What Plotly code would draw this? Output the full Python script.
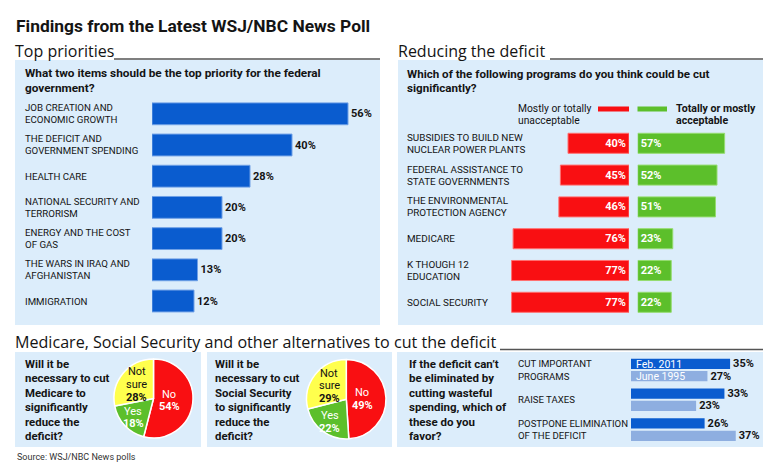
import math
import plotly.graph_objects as go

W, H = 778, 475


def px(x):
    return x / W


def py(y):
    return 1 - y / H


# ---------------- data ----------------
priority_labels = [
    ["JOB CREATION AND", "ECONOMIC GROWTH"],
    ["THE DEFICIT AND", "GOVERNMENT SPENDING"],
    ["HEALTH CARE"],
    ["NATIONAL SECURITY AND", "TERRORISM"],
    ["ENERGY AND THE COST", "OF GAS"],
    ["THE WARS IN IRAQ AND", "AFGHANISTAN"],
    ["IMMIGRATION"],
]
priority_values = [56, 40, 28, 20, 20, 13, 12]

cut_labels = [
    ["SUBSIDIES TO BUILD NEW", "NUCLEAR POWER PLANTS"],
    ["FEDERAL ASSISTANCE TO", "STATE GOVERNMENTS"],
    ["THE ENVIRONMENTAL", "PROTECTION AGENCY"],
    ["MEDICARE"],
    ["K THOUGH 12", "EDUCATION"],
    ["SOCIAL SECURITY"],
]
unacceptable = [40, 45, 46, 76, 77, 77]
acceptable = [57, 52, 51, 23, 22, 22]

pie_labels = ["No", "Yes", "Not sure"]
medicare_pie = [54, 18, 28]
socsec_pie = [49, 22, 29]

favor_labels = [
    ["CUT IMPORTANT", "PROGRAMS"],
    ["RAISE TAXES"],
    ["POSTPONE ELIMINATION", "OF THE DEFICIT"],
]
feb_2011 = [35, 33, 26]
june_1995 = [27, 23, 37]

# ---------------- styles ----------------
FONT = "Roboto, Liberation Sans, sans-serif"
HEAD = "Open Sans, Lato, sans-serif"
TXT = "#141414"
BG = "#dcedfb"
BLUE = "#0a5ccf"
LIGHTBLUE = "#8eaee0"
RED = "#f90f12"
GREEN = "#5cbf2b"
YELLOW = "#ffff4d"
RULE = "#555555"
PIE_LABEL_R = [0.4, 0.7, 0.55]   # label distance from pie centre, as share of radius

fig = go.Figure()
annotations = []
shapes = []


def add_lines(lines, x, y_first, spacing, size, bold=False, color=TXT, family=FONT, xanchor="left"):
    for k, line in enumerate(lines):
        t = f"<b>{line}</b>" if bold else line
        annotations.append(dict(xref="paper", yref="paper", x=px(x), y=py(y_first + k * spacing),
                                text=t, showarrow=False, xanchor=xanchor, yanchor="middle",
                                font=dict(family=family, size=size, color=color)))


def add_axis_labels(labels, yref, x, spacing, size):
    for i, lines in enumerate(labels):
        n = len(lines)
        for k, line in enumerate(lines):
            annotations.append(dict(xref="paper", yref=yref, x=px(x), y=i,
                                    yshift=((n - 1) / 2 - k) * spacing,
                                    text=line, showarrow=False, xanchor="left", yanchor="middle",
                                    font=dict(family=FONT, size=size, color=TXT)))


def box(x0, y0, x1, y1):
    shapes.append(dict(type="rect", xref="paper", yref="paper", x0=px(x0), x1=px(x1),
                       y0=py(y1), y1=py(y0), fillcolor=BG, line=dict(width=0), layer="below"))


def rule(x0, x1, y):
    shapes.append(dict(type="line", xref="paper", yref="paper", x0=px(x0), x1=px(x1),
                       y0=py(y), y1=py(y), line=dict(color=RULE, width=1.6)))


# ---------------- frame ----------------
add_lines(["<b>Findings from the Latest WSJ/NBC News Poll</b>"], 14, 26, 0, 17.4)

box(15, 60, 380, 325)
box(398, 60, 763, 325)
box(15, 352, 201, 447)
box(207, 352, 392, 447)
box(397, 352, 763, 447)

add_lines(["Top priorities"], 13, 51, 0, 16, family=HEAD)
rule(114, 380, 59)
add_lines(["Reducing the deficit"], 396, 51, 0, 16, family=HEAD)
rule(550, 763, 59)
add_lines(["Medicare, Social Security and other alternatives to cut the deficit"], 13, 342, 0, 16.1, family=HEAD)
rule(500, 763, 349.5)

# ---------------- top priorities ----------------
add_lines(["What two items should be the top priority for the federal", "government?"], 23, 73, 15, 11.8, bold=True)

fig.add_trace(go.Bar(
    x=priority_values, y=list(range(len(priority_values))), orientation="h",
    marker=dict(color=BLUE, line=dict(color="#6fa0e6", width=1)), width=0.7,
    text=[f"<b>{v}%</b>" for v in priority_values], textposition="outside",
    textfont=dict(family=FONT, size=11, color=TXT), cliponaxis=False,
    xaxis="x", yaxis="y", showlegend=False, hoverinfo="skip"))
add_axis_labels(priority_labels, "y", 23, 12, 9.7)

# ---------------- reducing the deficit ----------------
add_lines(["Which of the following programs do you think could be cut", "significantly?"], 405, 73.5, 14, 11.6, bold=True)
add_lines(["Mostly or totally", "unacceptable"], 516, 109, 11.5, 10.3)
add_lines(["<b>Totally or mostly</b>", "<b>acceptable</b>"], 674, 109, 11.5, 10.6)
shapes.append(dict(type="rect", xref="paper", yref="paper", x0=px(598), x1=px(629), y0=py(111.5), y1=py(106.5),
                   fillcolor=RED, line=dict(width=0)))
shapes.append(dict(type="rect", xref="paper", yref="paper", x0=px(637.5), x1=px(667), y0=py(111.5), y1=py(106.5),
                   fillcolor=GREEN, line=dict(width=0)))

idx = list(range(len(unacceptable)))
fig.add_trace(go.Bar(
    x=unacceptable, y=idx, orientation="h", marker=dict(color=RED, line=dict(color="#ff7070", width=1)),
    width=0.63, text=[f"<b>{v}%</b>" for v in unacceptable], textposition="inside",
    insidetextanchor="start", textfont=dict(family=FONT, size=11, color="white"),
    xaxis="x2", yaxis="y2", showlegend=False, hoverinfo="skip"))
fig.add_trace(go.Bar(
    x=acceptable, y=idx, orientation="h", marker=dict(color=GREEN, line=dict(color="#95dc70", width=1)),
    width=0.63, text=[f"<b>{v}%</b>" for v in acceptable], textposition="inside",
    insidetextanchor="start", textfont=dict(family=FONT, size=11, color="white"),
    xaxis="x3", yaxis="y2", showlegend=False, hoverinfo="skip"))
add_axis_labels(cut_labels, "y2", 405, 12, 9.9)

# ---------------- pies ----------------
pie_colors = [RED, GREEN, YELLOW]
pie_textcolors = ["white", "white", TXT]

for vals, (cx, cy, R) in [(medicare_pie, (153.5, 398.5, 39.5)), (socsec_pie, (346.3, 399.2, 39.7))]:
    fig.add_trace(go.Pie(
        values=vals, labels=pie_labels, textinfo="none",
        sort=False, direction="clockwise", rotation=0,
        marker=dict(colors=pie_colors, line=dict(color="white", width=1.5)),
        domain=dict(x=[px(cx - R), px(cx + R)], y=[py(cy + R), py(cy - R)]),
        showlegend=False, hoverinfo="skip"))
    total = sum(vals)
    cum = 0
    for i, (lab, v) in enumerate(zip(pie_labels, vals)):
        mid = (cum + v / 2) / total * 2 * math.pi
        cum += v
        r = PIE_LABEL_R[i] * R
        lx = cx + r * math.sin(mid)
        ly = cy - r * math.cos(mid)
        lines = lab.split(" ") + [f"<b>{v}%</b>"]
        sp = 12.8
        add_lines(lines, lx, ly - (len(lines) - 1) / 2 * sp, sp, 11, color=pie_textcolors[i], xanchor="center")

add_lines(["Will it be", "necessary to cut", "Medicare to", "significantly", "reduce the", "deficit?"],
          23, 363.5, 14.5, 11.4, bold=True)
add_lines(["Will it be", "necessary to cut", "Social Security", "to significantly", "reduce the", "deficit?"],
          213, 363.5, 14.5, 11.4, bold=True)

# ---------------- favor chart ----------------
add_lines(["If the deficit can\u2019t", "be eliminated by", "cutting wasteful", "spending, which of", "these do you", "favor?"],
          406.5, 363.5, 14.5, 11.5, bold=True)

fidx = list(range(len(feb_2011)))
fig.add_trace(go.Bar(
    x=feb_2011, y=fidx, orientation="h", width=0.345, offset=-0.38,
    marker=dict(color=BLUE, line=dict(width=0)),
    text=[f"<b>{v}%</b>" for v in feb_2011], textposition="outside",
    textfont=dict(family=FONT, size=11, color=TXT), cliponaxis=False,
    xaxis="x4", yaxis="y4", showlegend=False, hoverinfo="skip"))
fig.add_trace(go.Bar(
    x=june_1995, y=fidx, orientation="h", width=0.345, offset=0.035,
    marker=dict(color=LIGHTBLUE, line=dict(width=0)),
    text=[f"<b>{v}%</b>" for v in june_1995], textposition="outside",
    textfont=dict(family=FONT, size=11, color=TXT), cliponaxis=False,
    xaxis="x4", yaxis="y4", showlegend=False, hoverinfo="skip"))
annotations.append(dict(xref="x4", yref="y4", x=0, y=0, xshift=3, yshift=5.5, text="Feb. 2011",
                        showarrow=False, xanchor="left", yanchor="middle",
                        font=dict(family=FONT, size=10.5, color="white")))
annotations.append(dict(xref="x4", yref="y4", x=0, y=0, xshift=3, yshift=-6, text="June 1995",
                        showarrow=False, xanchor="left", yanchor="middle",
                        font=dict(family=FONT, size=10.5, color="white")))
add_axis_labels(favor_labels, "y4", 516, 12.4, 9.6)

add_lines(["Source: WSJ/NBC News polls"], 15, 457, 0, 9, color="#333333")

# ---------------- layout ----------------
hidden = dict(visible=False, fixedrange=True)
fig.update_layout(
    width=W, height=H, margin=dict(l=0, r=0, t=0, b=0),
    paper_bgcolor="white", plot_bgcolor="rgba(0,0,0,0)",
    showlegend=False, annotations=annotations, shapes=shapes,
    uniformtext=dict(minsize=11, mode="show"),
    xaxis=dict(domain=[px(152), px(362)], range=[0, 60], anchor="y", **hidden),
    yaxis=dict(domain=[py(316.6), py(98.2)], range=[6.5, -0.5], anchor="x", **hidden),
    xaxis2=dict(domain=[px(500), px(629)], range=[129 / 1.525, 0], anchor="y2", **hidden),
    xaxis3=dict(domain=[px(637.7), px(762)], range=[0, (762 - 637.7) / 1.525], anchor="y2", **hidden),
    yaxis2=dict(domain=[py(318.2), py(127.4)], range=[5.5, -0.5], anchor="x2", **hidden),
    xaxis4=dict(domain=[px(631), px(758.4)], range=[0, 45], anchor="y4", **hidden),
    yaxis4=dict(domain=[py(444.5), py(355.1)], range=[2.5, -0.5], anchor="x4", **hidden),
)

fig.write_html("out.html", config={"displayModeBar": False},
               post_script="document.body.style.margin='0';document.body.style.padding='0';")
